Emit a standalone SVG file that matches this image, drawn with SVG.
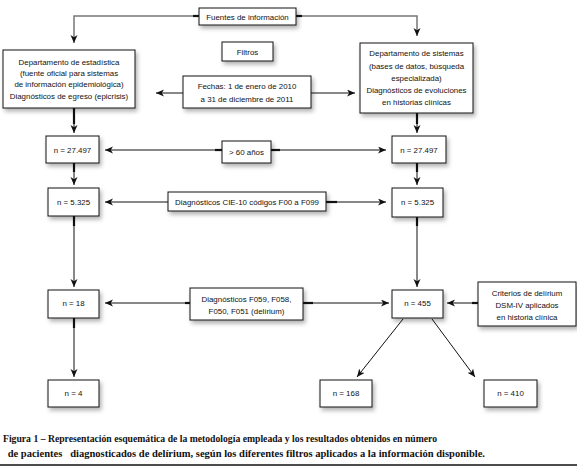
<svg xmlns="http://www.w3.org/2000/svg" width="577" height="470" viewBox="0 0 577 470">
<style>
.box{fill:#fff;stroke:#111;stroke-width:1;filter:url(#sh)}
.t{font-family:"Liberation Sans",Arial,sans-serif;font-size:7.9px;fill:#111;text-anchor:middle}
.c{fill:none;stroke:#111;stroke-width:1}
.g{fill:none;stroke:#777;stroke-width:1.5}
.s{fill:none;stroke:#111;stroke-width:2.2}
.cap{font-family:"Liberation Serif","Times New Roman",serif;font-size:10px;font-weight:bold;fill:#111}
</style>
<defs>
<filter id="sh" x="-20%" y="-20%" width="150%" height="170%">
<feDropShadow dx="2" dy="3" stdDeviation="2" flood-color="#000" flood-opacity="0.3"/>
</filter>
<marker id="a" markerUnits="userSpaceOnUse" markerWidth="10" markerHeight="8" refX="8" refY="3.5" orient="auto">
<path d="M0,0 L8,3.5 L0,7 L2.2,3.5 z" fill="#111"/>
</marker>
</defs>
<rect width="577" height="470" fill="#fff"/>

<g id="connectors">
<path class="g" d="M199,16 H74 V43" marker-end="url(#a)"/>
<path class="s" d="M193,16 H199"/>
<path class="g" d="M296,16 H417 V36" marker-end="url(#a)"/>
<path class="s" d="M296,16 H302"/>
<path class="c" d="M183,93 H156" marker-end="url(#a)"/>
<path class="c" d="M311,93 H355" marker-end="url(#a)"/>
<path class="s" d="M74,108 V124"/>
<path class="c" d="M74,108 V133" marker-end="url(#a)"/>
<path class="s" d="M417,113 V124"/>
<path class="c" d="M417,113 V133" marker-end="url(#a)"/>
<path class="c" d="M222,150 H105" marker-end="url(#a)"/>
<path class="s" d="M222,150 H215"/>
<path class="c" d="M271,150 H386" marker-end="url(#a)"/>
<path class="s" d="M271,150 H280"/>
<path class="s" d="M74,163 V172"/>
<path class="c" d="M74,163 V185" marker-end="url(#a)"/>
<path class="s" d="M417,163 V172"/>
<path class="c" d="M417,163 V185" marker-end="url(#a)"/>
<path class="c" d="M168,202 H105" marker-end="url(#a)"/>
<path class="c" d="M326,202 H386" marker-end="url(#a)"/>
<path class="s" d="M326,202 H337"/>
<path class="s" d="M74,216 V226"/>
<path class="c" d="M74,216 V287" marker-end="url(#a)"/>
<path class="s" d="M417,217 V226"/>
<path class="c" d="M417,217 V287" marker-end="url(#a)"/>
<path class="c" d="M190,303 H105" marker-end="url(#a)"/>
<path class="s" d="M190,303 H185"/>
<path class="c" d="M303,303 H389" marker-end="url(#a)"/>
<path class="s" d="M303,303 H313"/>
<path class="c" d="M478,303 H447" marker-end="url(#a)"/>
<path class="s" d="M478,303 H472"/>
<path class="s" d="M74,318 V328"/>
<path class="c" d="M74,318 V377" marker-end="url(#a)"/>
<path class="c" d="M403,319 L357,377" marker-end="url(#a)"/>
<path class="c" d="M432,319 L475,377" marker-end="url(#a)"/>
</g>

<g id="fuentes"><rect class="box" x="199" y="8" width="97" height="17"/><text class="t" x="247.5" y="19.5">Fuentes de información</text></g>
<g id="filtros"><rect class="box" x="222" y="42" width="51" height="19"/><text class="t" x="247.5" y="54.5">Filtros</text></g>
<g id="dept-estadistica"><rect class="box" x="3" y="50" width="132" height="58"/>
<text class="t" x="69" y="64.5">Departamento de estadística</text>
<text class="t" x="69" y="75.5">(fuente oficial para sistemas</text>
<text class="t" x="69" y="87">de información epidemiológica)</text>
<text class="t" x="69" y="98.5">Diagnósticos de egreso (epicrisis)</text></g>
<g id="dept-sistemas"><rect class="box" x="360" y="43" width="113" height="70"/>
<text class="t" x="416.5" y="56">Departamento de sistemas</text>
<text class="t" x="416.5" y="68.5">(bases de datos, búsqueda</text>
<text class="t" x="416.5" y="81">especializada)</text>
<text class="t" x="416.5" y="93">Diagnósticos de evoluciones</text>
<text class="t" x="416.5" y="105">en historias clínicas</text></g>
<g id="fechas"><rect class="box" x="183" y="76" width="128" height="32"/>
<text class="t" x="247" y="89">Fechas: 1 de enero de 2010</text>
<text class="t" x="247" y="101.5">a 31 de diciembre de 2011</text></g>
<g id="n27497-l"><rect class="box" x="46" y="136" width="53" height="27"/><text class="t" x="72.5" y="152.5">n = 27.497</text></g>
<g id="edad"><rect class="box" x="222" y="141" width="49" height="22"/><text class="t" x="246.5" y="154.5">&gt; 60 años</text></g>
<g id="n27497-r"><rect class="box" x="392" y="136" width="54" height="27"/><text class="t" x="419" y="152.5">n = 27.497</text></g>
<g id="n5325-l"><rect class="box" x="48" y="188" width="51" height="28"/><text class="t" x="73.5" y="205">n = 5.325</text></g>
<g id="cie10"><rect class="box" x="168" y="192" width="158" height="19"/><text class="t" x="247" y="204.5">Diagnósticos CIE-10 códigos F00 a F099</text></g>
<g id="n5325-r"><rect class="box" x="392" y="188" width="51" height="29"/><text class="t" x="417.5" y="205">n = 5.325</text></g>
<g id="n18"><rect class="box" x="48" y="290" width="51" height="28"/><text class="t" x="73.5" y="306">n = 18</text></g>
<g id="f059"><rect class="box" x="190" y="288" width="113" height="32"/>
<text class="t" x="246.5" y="302">Diagnósticos F059, F058,</text>
<text class="t" x="246.5" y="314">F050, F051 (delírium)</text></g>
<g id="n455"><rect class="box" x="392" y="290" width="51" height="28"/><text class="t" x="417.5" y="306">n = 455</text></g>
<g id="criterios"><rect class="box" x="478" y="282" width="98" height="44"/>
<text class="t" x="527" y="296">Criterios de delírium</text>
<text class="t" x="527" y="307.5">DSM-IV aplicados</text>
<text class="t" x="527" y="319.5">en historia clínica</text></g>
<g id="n4"><rect class="box" x="48" y="380" width="51" height="27"/><text class="t" x="73.5" y="396">n = 4</text></g>
<g id="n168"><rect class="box" x="320" y="380" width="52" height="27"/><text class="t" x="346" y="396">n = 168</text></g>
<g id="n410"><rect class="box" x="484" y="380" width="53" height="27"/><text class="t" x="510.5" y="396">n = 410</text></g>

<text class="cap" x="3" y="442" textLength="434" lengthAdjust="spacingAndGlyphs">Figura 1 – Representación esquemática de la metodología empleada y los resultados obtenidos en número</text>
<text class="cap" x="5" y="457" xml:space="preserve" textLength="480" lengthAdjust="spacingAndGlyphs"> de pacientes   diagnosticados de delírium, según los diferentes filtros aplicados a la información disponible.</text>
<line x1="0" y1="465" x2="577" y2="465" stroke="#111" stroke-width="1.5"/>
</svg>
